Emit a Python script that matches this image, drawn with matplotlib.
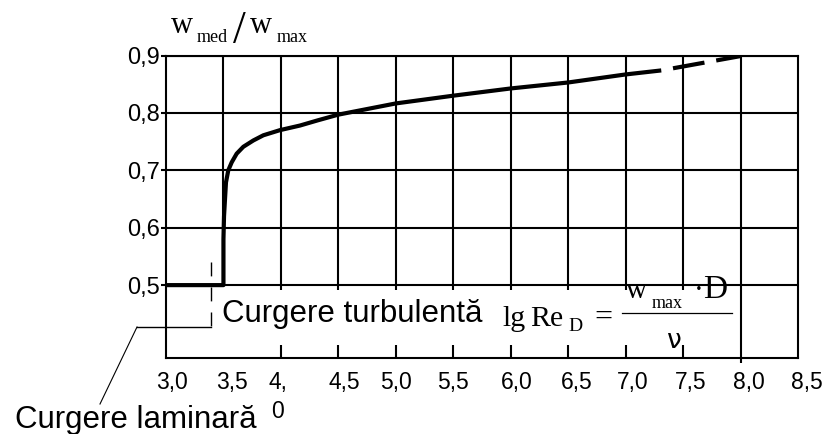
import matplotlib.pyplot as plt
from matplotlib.lines import Line2D

plt.rcParams["font.family"] = ["Liberation Sans", "DejaVu Sans"]
plt.rcParams["lines.scale_dashes"] = False

# x: lg Re_D, y: w_med / w_max
x_ticks = [3.0, 3.5, 4.0, 4.5, 5.0, 5.5, 6.0, 6.5, 7.0, 7.5, 8.0, 8.5]
x_labels = ["3,0", "3,5", "4,\n0", "4,5", "5,0", "5,5", "6,0", "6,5",
            "7,0", "7,5", "8,0", "8,5"]
y_ticks = [0.5, 0.6, 0.7, 0.8, 0.9]
y_labels = ["0,5", "0,6", "0,7", "0,8", "0,9"]

# measured curve (solid part) and the dashed extrapolation
curve_x = [3.0, 3.50, 3.50, 3.505, 3.513, 3.522, 3.542, 3.572, 3.615, 3.673,
           3.76, 3.847, 3.992, 4.166, 4.32, 4.5, 5.0, 5.5, 6.0, 6.5, 7.0, 7.31]
curve_y = [0.5, 0.5, 0.58, 0.62, 0.648, 0.679, 0.700, 0.714, 0.729, 0.741,
           0.752, 0.761, 0.770, 0.778, 0.787, 0.797, 0.8165, 0.830, 0.8426,
           0.853, 0.867, 0.874]
extrap_x = [7.31, 8.0]
extrap_y = [0.874, 0.899]

W, H = 827, 434


def P(x, y):
    # pixel position (from top-left) -> figure fraction
    return x / W, 1 - y / H


px_y = 0.1 / 57.5  # one pixel in y data units
y_bot = 0.5 - 73 * px_y

fig = plt.figure(figsize=(W / 100, H / 100), dpi=100)
ax = fig.add_axes([166 / W, 1 - 358 / H, (798 - 166) / W, (358 - 55.5) / H])
ax.set_xlim(3.0, 8.5)
ax.set_ylim(y_bot, 0.9)

for s in ax.spines.values():
    s.set_linewidth(1.5)
    s.set_color("black")

# grid: full above 0.5, stubs and ticks in the lower band
ax.hlines(y_ticks, 3.0, 8.5, color="black", lw=1.5)
ax.vlines(x_ticks[1:-1], 0.5, 0.9, color="black", lw=1.5)
ax.vlines(x_ticks[2:-2], 0.5 - 5 * px_y, 0.5, color="black", lw=1.5)
ax.vlines(x_ticks[2:-2], y_bot, y_bot + 13 * px_y, color="black", lw=1.5)
ax.vlines(x_ticks[-2:-1], y_bot - 5 * px_y, 0.5, color="black", lw=1.5,
          clip_on=False)

ax.plot(curve_x, curve_y, color="black", lw=3, solid_joinstyle="round",
        solid_capstyle="butt", zorder=5)
ax.plot(extrap_x, extrap_y, color="black", lw=3, dash_capstyle="butt",
        linestyle=(23, (23, 8.6)), zorder=5)

ax.set_xticks([])
ax.set_yticks(y_ticks, y_labels, fontsize=17)
ax.tick_params(axis="y", length=3.5, width=1.5, pad=1, colors="black")

label_dx = [6, 9, -3, 6, 0, 0, 6, 9, 7, 8, 8, 9]
for xv, lab, dx in zip(x_ticks, x_labels, label_dx):
    for i, line in enumerate(lab.split("\n")):
        ax.annotate(line, xy=(xv, 0), xycoords=("data", "axes fraction"),
                    xytext=(dx, -24 - 29 * i), textcoords="offset pixels",
                    ha="center", va="center", fontsize=16.5)

# axis title  w_med / w_max
serif = "Liberation Serif"
fig.text(*P(171, 33), "w", family=serif, fontsize=22, va="baseline")
fig.text(*P(197, 42), "med", family=serif, fontsize=13, va="baseline")
fig.text(*P(233, 43), "/", family=serif, fontsize=33, va="baseline")
fig.text(*P(250, 33), "w", family=serif, fontsize=22, va="baseline")
fig.text(*P(277, 42), "max", family=serif, fontsize=13, va="baseline")

# regime labels
fig.text(*P(222, 322), "Curgere turbulentă", fontsize=22.5, va="baseline")
fig.text(*P(15, 428), "Curgere laminară", fontsize=22.5, va="baseline")

# lg Re_D = w_max * D / nu
fig.text(*P(502, 326), "lg", family=serif, fontsize=21.5, va="baseline")
fig.text(*P(530, 326), "Re", family=serif, fontsize=21.5, va="baseline")
fig.text(*P(568, 331), "D", family=serif, fontsize=14, va="baseline")
fig.text(*P(594, 326), "=", family=serif, fontsize=23, va="baseline")
fig.text(*P(626, 298), "w", family=serif, fontsize=21, va="baseline")
fig.text(*P(652, 308), "max", family=serif, fontsize=13, va="baseline")
fig.text(*P(694, 298), "·", family=serif, fontsize=21, va="baseline")
fig.text(*P(703, 298), "D", family=serif, fontsize=24, va="baseline")
fig.text(*P(667, 348), "ν", family="DejaVu Sans", fontsize=19,
         va="baseline")
bx0, by = P(622, 313)
bx1, _ = P(732, 313)
fig.add_artist(Line2D([bx0, bx1], [by, by], color="black", lw=0.9))

# leader for the laminar label
x0, y0 = P(211, 262)
x1, y1 = P(211, 328)
fig.add_artist(Line2D([x0, x1], [y0, y1], color="black", lw=1,
                      linestyle=(0, (10, 8))))
hx, hy = P(137, 327)
fig.add_artist(Line2D([hx, x1], [hy, hy], color="black", lw=1))
dx_, dy_ = P(100, 404)
fig.add_artist(Line2D([hx, dx_], [hy, dy_], color="black", lw=0.8))

fig.savefig("out.png", dpi=100)
